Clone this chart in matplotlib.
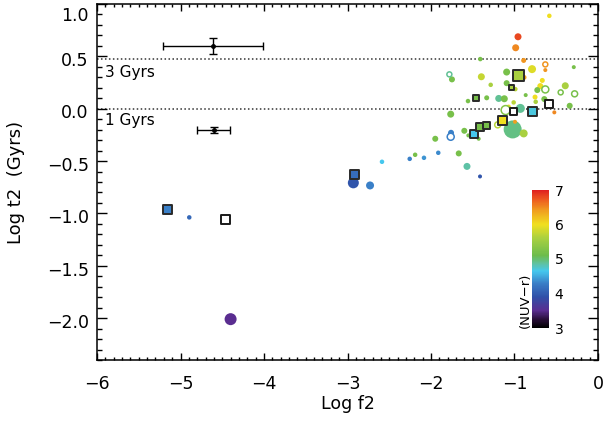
import numpy as np
import matplotlib
matplotlib.use("Agg")
import matplotlib.pyplot as plt
import matplotlib.transforms as mtransforms
from matplotlib.colors import LinearSegmentedColormap, Normalize
from matplotlib.cm import ScalarMappable
from matplotlib.ticker import MultipleLocator, FuncFormatter

plt.rcParams['font.family'] = ['DejaVu Sans']

# ---------------- data ----------------
# filled circles: log f2, log t2, NUV-r colour, symbol size (px diameter)
circ_x = [-4.40, -4.895, -2.93, -2.73, -2.587, -2.255, -2.19, -2.084, -1.913, -1.949,
          -1.76, -1.668, -1.569, -1.413, -1.601, -1.553, -1.429, -0.583, -0.958, -0.986,
          -1.41, -0.89, -0.631, -0.29, -1.749, -1.094, -0.886, -0.79, -1.397, -1.285,
          -1.094, -0.99, -0.667, -0.691, -0.392, -0.727, -0.866, -1.557, -1.333, -1.189,
          -1.122, -0.754, -0.643, -0.746, -1.01, -0.339, -1.07, -0.93, -0.523, -1.764,
          -0.994, -1.022, -0.89]
circ_y = [-2.01, -1.038, -0.708, -0.733, -0.507, -0.479, -0.44, -0.469, -0.421, -0.287,
          -0.23, -0.427, -0.551, -0.647, -0.211, -0.255, -0.287, 0.887, 0.687, 0.582,
          0.474, 0.461, 0.369, 0.397, 0.28, 0.35, 0.299, 0.378, 0.305, 0.228,
          0.244, 0.187, 0.27, 0.216, 0.219, 0.178, 0.13, 0.073, 0.104, 0.098,
          0.095, 0.111, 0.092, 0.066, 0.06, 0.028, 0.018, 0.003, -0.035, -0.052,
          -0.125, -0.198, -0.236]
circ_c = [3.5, 4.1, 3.95, 4.3, 4.65, 4.3, 5.2, 4.4, 4.35, 5.2,
          4.3, 5.2, 4.85, 3.95, 5.2, 5.2, 5.2, 6.0, 6.8, 6.5,
          5.2, 6.45, 6.45, 5.2, 5.2, 5.2, 6.4, 5.9, 5.75, 5.6,
          5.2, 5.7, 6.0, 6.0, 5.6, 5.2, 5.2, 5.2, 5.2, 4.9,
          5.2, 6.0, 5.2, 5.6, 5.7, 5.2, 6.0, 4.9, 6.5, 5.2,
          6.4, 4.95, 5.6]
circ_size = [12, 4.5, 11, 8, 4.5, 4.5, 4.5, 4.5, 4.5, 6,
             6, 6, 7, 4, 6, 4, 4, 4.5, 7, 7,
             4.5, 5, 4, 4, 6, 7, 5, 8, 7, 4.5,
             6, 4.5, 5, 6, 7, 6, 4, 4.5, 5, 7,
             7, 5, 6, 4.5, 4.5, 6, 4.5, 9, 4, 7,
             4, 18, 8]

# open circles
ocirc_x = [-1.764, -0.631, -1.78, -0.631, -0.447, -0.28, -1.106, -1.201]
ocirc_y = [-0.268, 0.423, 0.328, 0.184, 0.156, 0.142, -0.013, -0.154]
ocirc_c = [4.3, 6.45, 4.9, 5.2, 5.2, 5.2, 5.3, 5.7]
ocirc_size = [7, 5, 5, 7, 5, 6, 9, 6]

# filled squares
sq_x = [-5.158, -2.922, -1.481, -1.413, -1.338, -1.146, -0.787, -0.951, -1.038, -1.465]
sq_y = [-0.959, -0.625, -0.243, -0.173, -0.163, -0.109, -0.03, 0.318, 0.203, 0.104]
sq_c = [4.3, 4.15, 4.65, 5.2, 5.2, 6.0, 4.7, 5.6, 5.6, 5.2]
sq_size = [9, 9, 8, 8, 7, 9, 9, 11, 5, 6]

# open squares
osq_x = [-4.463, -0.583, -1.014]
osq_y = [-1.057, 0.041, -0.023]
osq_size = [9, 8, 7]

# typical error bars
err_x = [-4.607, -4.603]
err_y = [0.601, -0.204]
err_xe = [0.6, 0.2]
err_ye = [0.078, 0.031]

age_lines = [np.log10(3.0), 0.0]
age_labels = ['3 Gyrs', '1 Gyrs']
cbar_ticks = [3, 4, 5, 6, 7]

# ---------------- colour map ----------------
anchors = [(3.0, '#000000'), (3.25, '#2a0f3a'), (3.5, '#5a2d90'), (3.9, '#3050a8'),
           (4.3, '#3a80c8'), (4.65, '#45c8ee'), (4.85, '#5ec2a6'), (5.1, '#6cbc4c'),
           (5.6, '#a8d040'), (6.0, '#f0e020'), (6.4, '#f0a020'), (6.7, '#ee6020'),
           (7.0, '#e02020')]
cmap = LinearSegmentedColormap.from_list('nuvr', [((v - 3) / 4, c) for v, c in anchors])
norm = Normalize(3, 7)

def s_of(d):
    return (np.asarray(d) * 0.72) ** 2

fig = plt.figure(figsize=(6.05, 4.26), dpi=100)
ax = fig.add_axes([97 / 605, 1 - 360 / 426, 501 / 605, 356 / 426])

for yv in age_lines:
    ax.axhline(yv, color='#333333', lw=1.1, ls=(0, (1, 1.6)), zorder=1)
ax.text(-5.9, 0.35, age_labels[0], fontsize=11, va='center', ha='left')
ax.text(-5.9, -0.11, age_labels[1], fontsize=11, va='center', ha='left')

ax.errorbar(err_x, err_y, xerr=err_xe, yerr=err_ye, fmt='o', ms=2.5, color='k',
            capsize=3, lw=1, capthick=1, zorder=3)

order = np.argsort(circ_size)[::-1]
ax.scatter(np.array(circ_x)[order], np.array(circ_y)[order], s=s_of(np.array(circ_size)[order]),
           c=np.array(circ_c)[order], cmap=cmap, norm=norm, edgecolors='none', zorder=4)
ax.scatter(ocirc_x, ocirc_y, s=s_of(ocirc_size), facecolors='white',
           edgecolors=cmap(norm(ocirc_c)), linewidths=1.1, zorder=4)
ax.scatter(sq_x, sq_y, s=s_of(sq_size), c=sq_c, cmap=cmap, norm=norm, marker='s',
           edgecolors='#2a2a2a', linewidths=1.4, zorder=5)
ax.scatter(osq_x, osq_y, s=s_of(osq_size), facecolors='white', marker='s',
           edgecolors='#1a1a1a', linewidths=1.4, zorder=5)

ax.set_xlim(-6, 0)
ax.set_ylim(-2.4, 1.0)
ax.xaxis.set_major_locator(MultipleLocator(1))
ax.xaxis.set_minor_locator(MultipleLocator(0.1))
ax.yaxis.set_major_locator(MultipleLocator(0.5))
ax.yaxis.set_minor_locator(MultipleLocator(0.1))
ax.tick_params(which='both', direction='in', top=True, right=True, width=1, labelsize=12.5)
ax.tick_params(axis='x', which='major', length=5, pad=11)
ax.tick_params(axis='x', which='minor', length=2.5)
ax.tick_params(axis='y', which='major', length=7, pad=6)
ax.tick_params(axis='y', which='minor', length=3.5)
ax.yaxis.set_major_formatter(FuncFormatter(lambda v, p: ('%.1f' % v).replace('-', '\u2212')))
ax.xaxis.set_major_formatter(FuncFormatter(lambda v, p: ('%d' % round(v)).replace('-', '\u2212')))
for sp in ax.spines.values():
    sp.set_linewidth(1.1)

fig.canvas.draw()
shift = mtransforms.ScaledTranslation(0, -2 / 72, fig.dpi_scale_trans)
for lab in ax.get_yticklabels():
    lab.set_transform(lab.get_transform() + shift)
    if lab.get_text() == '1.0':
        lab.set_va('top')

ax.set_xlabel('Log f2', fontsize=12.5)
ax.xaxis.set_label_coords(0.5, (360 - 395) / 356)
ax.set_ylabel('Log t2  (Gyrs)', fontsize=13)
ax.yaxis.set_label_coords((25 - 97) / 501, 0.5)

cax = fig.add_axes([532 / 605, 1 - 328 / 426, 17 / 605, 138 / 426])
cb = fig.colorbar(ScalarMappable(norm=norm, cmap=cmap), cax=cax, ticks=cbar_ticks)
cb.outline.set_visible(False)
cax.tick_params(length=0, labelsize=10, pad=4)
fig.text(525 / 605, 1 - 300 / 426, '(NUV\u2212r)', rotation=90, ha='center', va='center', fontsize=9.5)

fig.savefig('out.png', dpi=100)
